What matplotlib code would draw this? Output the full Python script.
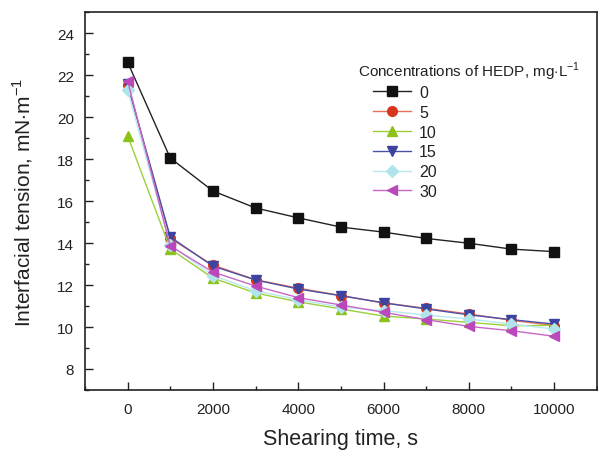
import numpy as np
import matplotlib
matplotlib.use('Agg')
from matplotlib import pyplot as plt
from matplotlib.ticker import MultipleLocator

plt.rcParams['font.family'] = ['Liberation Sans', 'DejaVu Sans']
plt.rcParams['mathtext.fontset'] = 'custom'
plt.rcParams['mathtext.rm'] = 'Liberation Sans'

# shearing time, s
time = [0, 1000, 2000, 3000, 4000, 5000, 6000, 7000, 8000, 9000, 10000]

# interfacial tension, mN/m, for each HEDP concentration (mg/L)
c0 = [22.62, 18.05, 16.48, 15.67, 15.20, 14.76, 14.52, 14.22, 13.99, 13.71, 13.59]
c5 = [21.55, 14.22, 12.95, 12.25, 11.85, 11.50, 11.15, 10.89, 10.62, 10.32, 10.07]
c10 = [19.11, 13.72, 12.33, 11.62, 11.20, 10.86, 10.52, 10.38, 10.22, 10.06, 10.08]
c15 = [21.57, 14.29, 12.90, 12.24, 11.81, 11.49, 11.15, 10.86, 10.58, 10.35, 10.14]
c20 = [21.30, 13.90, 12.45, 11.73, 11.30, 10.95, 10.78, 10.57, 10.38, 10.14, 9.90]
c30 = [21.73, 13.86, 12.62, 11.95, 11.40, 11.05, 10.70, 10.35, 10.03, 9.82, 9.56]

labels = ['0', '5', '10', '15', '20', '30']

fig = plt.figure(figsize=(5.98, 4.52), dpi=100)
ax = fig.add_axes([0.142, 0.135, 0.856, 0.836])

ax.plot(time, c0, '-s', color='#222222', mfc='#111111', mec='#111111', ms=6.5, lw=1.0, label=labels[0])
ax.plot(time, c5, '-o', color='#e87058', mfc='#d8361c', mec='#d8361c', ms=7, lw=1.0, label=labels[1])
ax.plot(time, c10, '-^', color='#9ccf3a', mfc='#8cc21a', mec='#8cc21a', ms=7, lw=1.0, label=labels[2])
ax.plot(time, c15, '-v', color='#4a52a8', mfc='#3c44a0', mec='#3c44a0', ms=7, lw=1.0, label=labels[3])
ax.plot(time, c20, '-D', color='#b8e8ee', mfc='#aee4ea', mec='#aee4ea', ms=6, lw=1.0, label=labels[4])
ax.plot(time, c30, '-<', color='#c866c8', mfc='#bb48bb', mec='#bb48bb', ms=7, lw=1.0, label=labels[5])

ax.set_xlim(-1000, 11000)
ax.set_ylim(7, 25)
ax.set_xticks([0, 2000, 4000, 6000, 8000, 10000])
ax.set_yticks([8, 10, 12, 14, 16, 18, 20, 22, 24])
ax.xaxis.set_minor_locator(MultipleLocator(1000))
ax.yaxis.set_minor_locator(MultipleLocator(1))
ax.tick_params(which='both', direction='in', labelsize=11, colors='#222222', width=1.0)
ax.tick_params(which='major', length=6)
ax.tick_params(axis='x', which='major', pad=9)
ax.tick_params(axis='y', which='major', pad=8)
ax.tick_params(which='minor', length=3)
for s in ax.spines.values():
    s.set_linewidth(1.2)
    s.set_color('#222222')

ax.set_xlabel('Shearing time, s', fontsize=15.5, color='#222222', labelpad=8)
ax.set_ylabel('Interfacial tension, mN$\\cdot$m$^{-1}$', fontsize=15, color='#222222', labelpad=16)

# legend title sits to the left of the entries
ax.text(0.533, 0.844, 'Concentrations of HEDP, mg$\\cdot$L$^{-1}$', transform=ax.transAxes,
        fontsize=11, color='#222222', ha='left', va='center')
leg = ax.legend(loc='upper left', bbox_to_anchor=(0.5625, 0.807), frameon=False,
                fontsize=11.5, handlelength=2.4, labelspacing=0.3, handletextpad=0.5,
                borderpad=0, borderaxespad=0)
for t in leg.get_texts():
    t.set_color('#222222')

fig.savefig('out.png', dpi=100)
